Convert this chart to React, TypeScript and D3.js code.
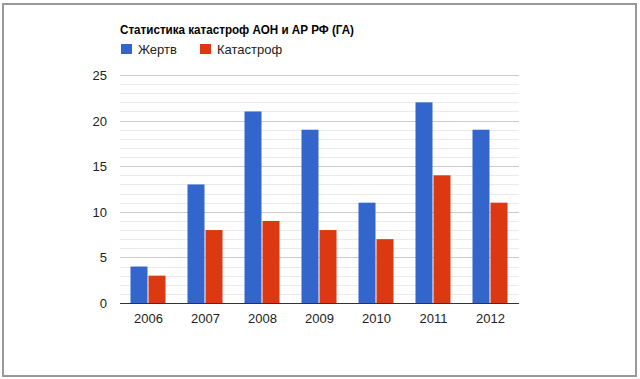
import React from "react";
import * as d3 from "d3";

const years = ["2006", "2007", "2008", "2009", "2010", "2011", "2012"];
const victims = [4, 13, 21, 19, 11, 22, 19];
const crashes = [3, 8, 9, 8, 7, 14, 11];
const seriesNames = ["Жертв", "Катастроф"];
const yTicks = [0, 5, 10, 15, 20, 25];
const title = "Статистика катастроф АОН и АР РФ (ГА)";

const W = 640;
const H = 379;
const colors = ["#3366cc", "#dc3912"];
const font = "Arial, 'Liberation Sans', sans-serif";

export default function App() {
  const left = 120, right = 519, top = 75, bottom = 303;
  const x = d3.scaleBand<string>().domain(years).range([left, right]).paddingInner(0).paddingOuter(0);
  const y = d3.scaleLinear().domain([0, 25]).range([bottom, top]);
  const minor = d3.range(0, 26, 1);
  const groupW = 36;
  const barW = 17;
  const series = [victims, crashes];

  return (
    <svg width={W} height={H} style={{ position: "absolute", left: 0, top: 0, background: "#fff" }} fontFamily={font}>
      <rect x={0} y={0} width={W} height={H} fill="#fff" />
      <rect x={3} y={4} width={633} height={372} fill="none" stroke="#999" strokeWidth={2} />
      <text x={120} y={34} fontSize={12} fontWeight="bold" fill="#000" textLength={234} lengthAdjust="spacingAndGlyphs">{title}</text>
      {seriesNames.map((n, i) => {
        const lx = i === 0 ? 121 : 200;
        return (
          <g key={n}>
            <rect x={lx} y={44} width={11} height={10} fill={colors[i]} />
            <text x={lx + 17} y={54} fontSize={13} fill="#222">{n}</text>
          </g>
        );
      })}
      {minor.map((v) => (
        <line key={"m" + v} x1={left} x2={right} y1={Math.round(y(v)) + 0.5} y2={Math.round(y(v)) + 0.5}
          stroke={v % 5 === 0 ? "#cccccc" : "#ebebeb"} strokeWidth={1} />
      ))}
      {yTicks.map((t) => (
        <text key={"t" + t} x={107} y={y(t) + 5} fontSize={13} textAnchor="end" fill="#222">{t}</text>
      ))}
      {years.map((yr, i) => {
        const cx = (x(yr) as number) + x.bandwidth() / 2;
        const gx = cx - groupW / 2;
        return (
          <g key={yr}>
            {series.map((s, j) => (
              <rect key={j} x={gx + j * (barW + 1)} y={y(s[i])} width={barW} height={y(0) - y(s[i])} fill={colors[j]} />
            ))}
            <text x={cx} y={323} fontSize={13} textAnchor="middle" fill="#222">{yr}</text>
          </g>
        );
      })}
      <line x1={left} x2={right} y1={Math.round(y(0)) + 0.5} y2={Math.round(y(0)) + 0.5} stroke="#333" strokeWidth={1} />
    </svg>
  );
}
